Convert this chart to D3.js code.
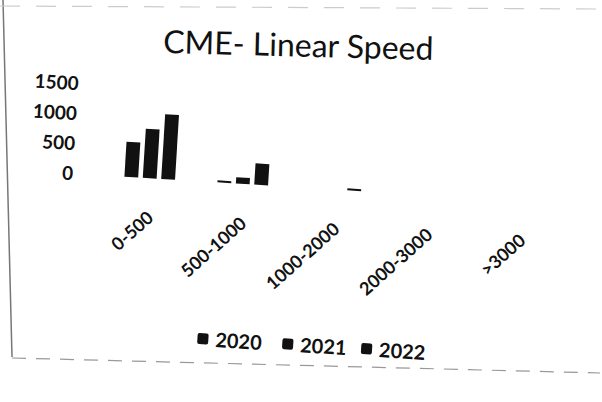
<!DOCTYPE html>
<html><head><meta charset="utf-8">
<script src="https://cdn.jsdelivr.net/npm/d3@7"></script>
<style>html,body{margin:0;padding:0;background:#fff;}svg{display:block;}</style>
</head><body>
<svg id="c" width="602" height="402"></svg>
<script>
const categories = ["0-500", "500-1000", "1000-2000", "2000-3000", ">3000"];
const seriesNames = ["2020", "2021", "2022"];
const v2020 = [585, 30, 0, 0, 0];
const v2021 = [820, 105, 0, 0, 0];
const v2022 = [1080, 355, 30, 0, 0];
const yTicks = [0, 500, 1000, 1500];

const values = [v2020, v2021, v2022];
const svg = d3.select("#c");
svg.append("rect").attr("width", 602).attr("height", 402).attr("fill", "#fff");

// page edges from the photo
svg.append("line").attr("x1", 3).attr("y1", 0).attr("x2", 12).attr("y2", 357)
  .attr("stroke", "#777").attr("stroke-width", 1.5);
svg.append("line").attr("x1", 12).attr("y1", 358).attr("x2", 600).attr("y2", 373)
  .attr("stroke", "#999").attr("stroke-width", 1.2).attr("stroke-dasharray", "14,10");
svg.append("line").attr("x1", 0).attr("y1", 6).attr("x2", 600).attr("y2", 9)
  .attr("stroke", "#ccc").attr("stroke-width", 1.2).attr("stroke-dasharray", "20,16");

const g = svg.append("g").attr("transform", "rotate(3.5,301,201)");

const x0 = d3.scaleBand().domain(categories).range([102, 568]).paddingInner(0).paddingOuter(0);
const x1 = d3.scaleBand().domain(seriesNames).range([0, x0.bandwidth()]).paddingInner(0.25).paddingOuter(1.15);
const y = d3.scaleLinear().domain([0, 1500]).range([187.5, 97.5]);

// title
g.append("text").attr("x", 289).attr("y", 57).attr("text-anchor", "middle")
  .attr("transform", "rotate(-2,289,50)")
  .attr("font-family", "Lato, 'Open Sans', sans-serif").attr("font-size", 32)
  .attr("fill", "#111").text("CME- Linear Speed");

// y axis
const ya = g.append("g").attr("transform", "translate(82,0)")
  .call(d3.axisLeft(y).tickValues(yTicks).tickSize(0).tickPadding(10).tickFormat(d3.format("d")));
ya.select(".domain").remove();
ya.selectAll("text").attr("font-family", "Lato, 'Open Sans', sans-serif")
  .attr("font-size", 19).attr("font-weight", 700).attr("fill", "#111");

// bars
const grp = g.append("g").selectAll("g").data(categories).join("g")
  .attr("transform", d => `translate(${x0(d)},0)`);
grp.selectAll("rect").data((d, i) => seriesNames.map((s, j) => ({ s, v: values[j][i] })))
  .join("rect")
  .attr("x", d => x1(d.s)).attr("width", x1.bandwidth())
  .attr("y", d => d.v > 0 ? Math.min(y(d.v), y(0) - 2) : y(0))
  .attr("height", d => d.v > 0 ? Math.max(y(0) - y(d.v), 2) : 0)
  .attr("fill", "#111");

// x axis labels
const xa = g.append("g").attr("transform", "translate(0,210)")
  .call(d3.axisBottom(x0).tickSize(0).tickPadding(0));
xa.select(".domain").remove();
xa.selectAll("text").attr("font-family", "Lato, 'Open Sans', sans-serif")
  .attr("font-size", 18).attr("font-weight", 700).attr("fill", "#111")
  .attr("text-anchor", "end").attr("dy", "0.35em")
  .attr("transform", "translate(3,14) rotate(-45)");

// legend
const legX = [206, 291, 370];
const leg = g.append("g").selectAll("g").data(seriesNames).join("g")
  .attr("transform", (d, i) => `translate(${legX[i]},345)`);
leg.append("rect").attr("x", 0).attr("y", -6).attr("width", 11).attr("height", 11)
  .attr("rx", 2).attr("fill", "#111");
leg.append("text").attr("x", 18).attr("y", 0).attr("dy", "0.35em")
  .attr("font-family", "Lato, 'Open Sans', sans-serif").attr("font-size", 20)
  .attr("font-weight", 700).attr("fill", "#111").text(d => d);
</script>
</body></html>
